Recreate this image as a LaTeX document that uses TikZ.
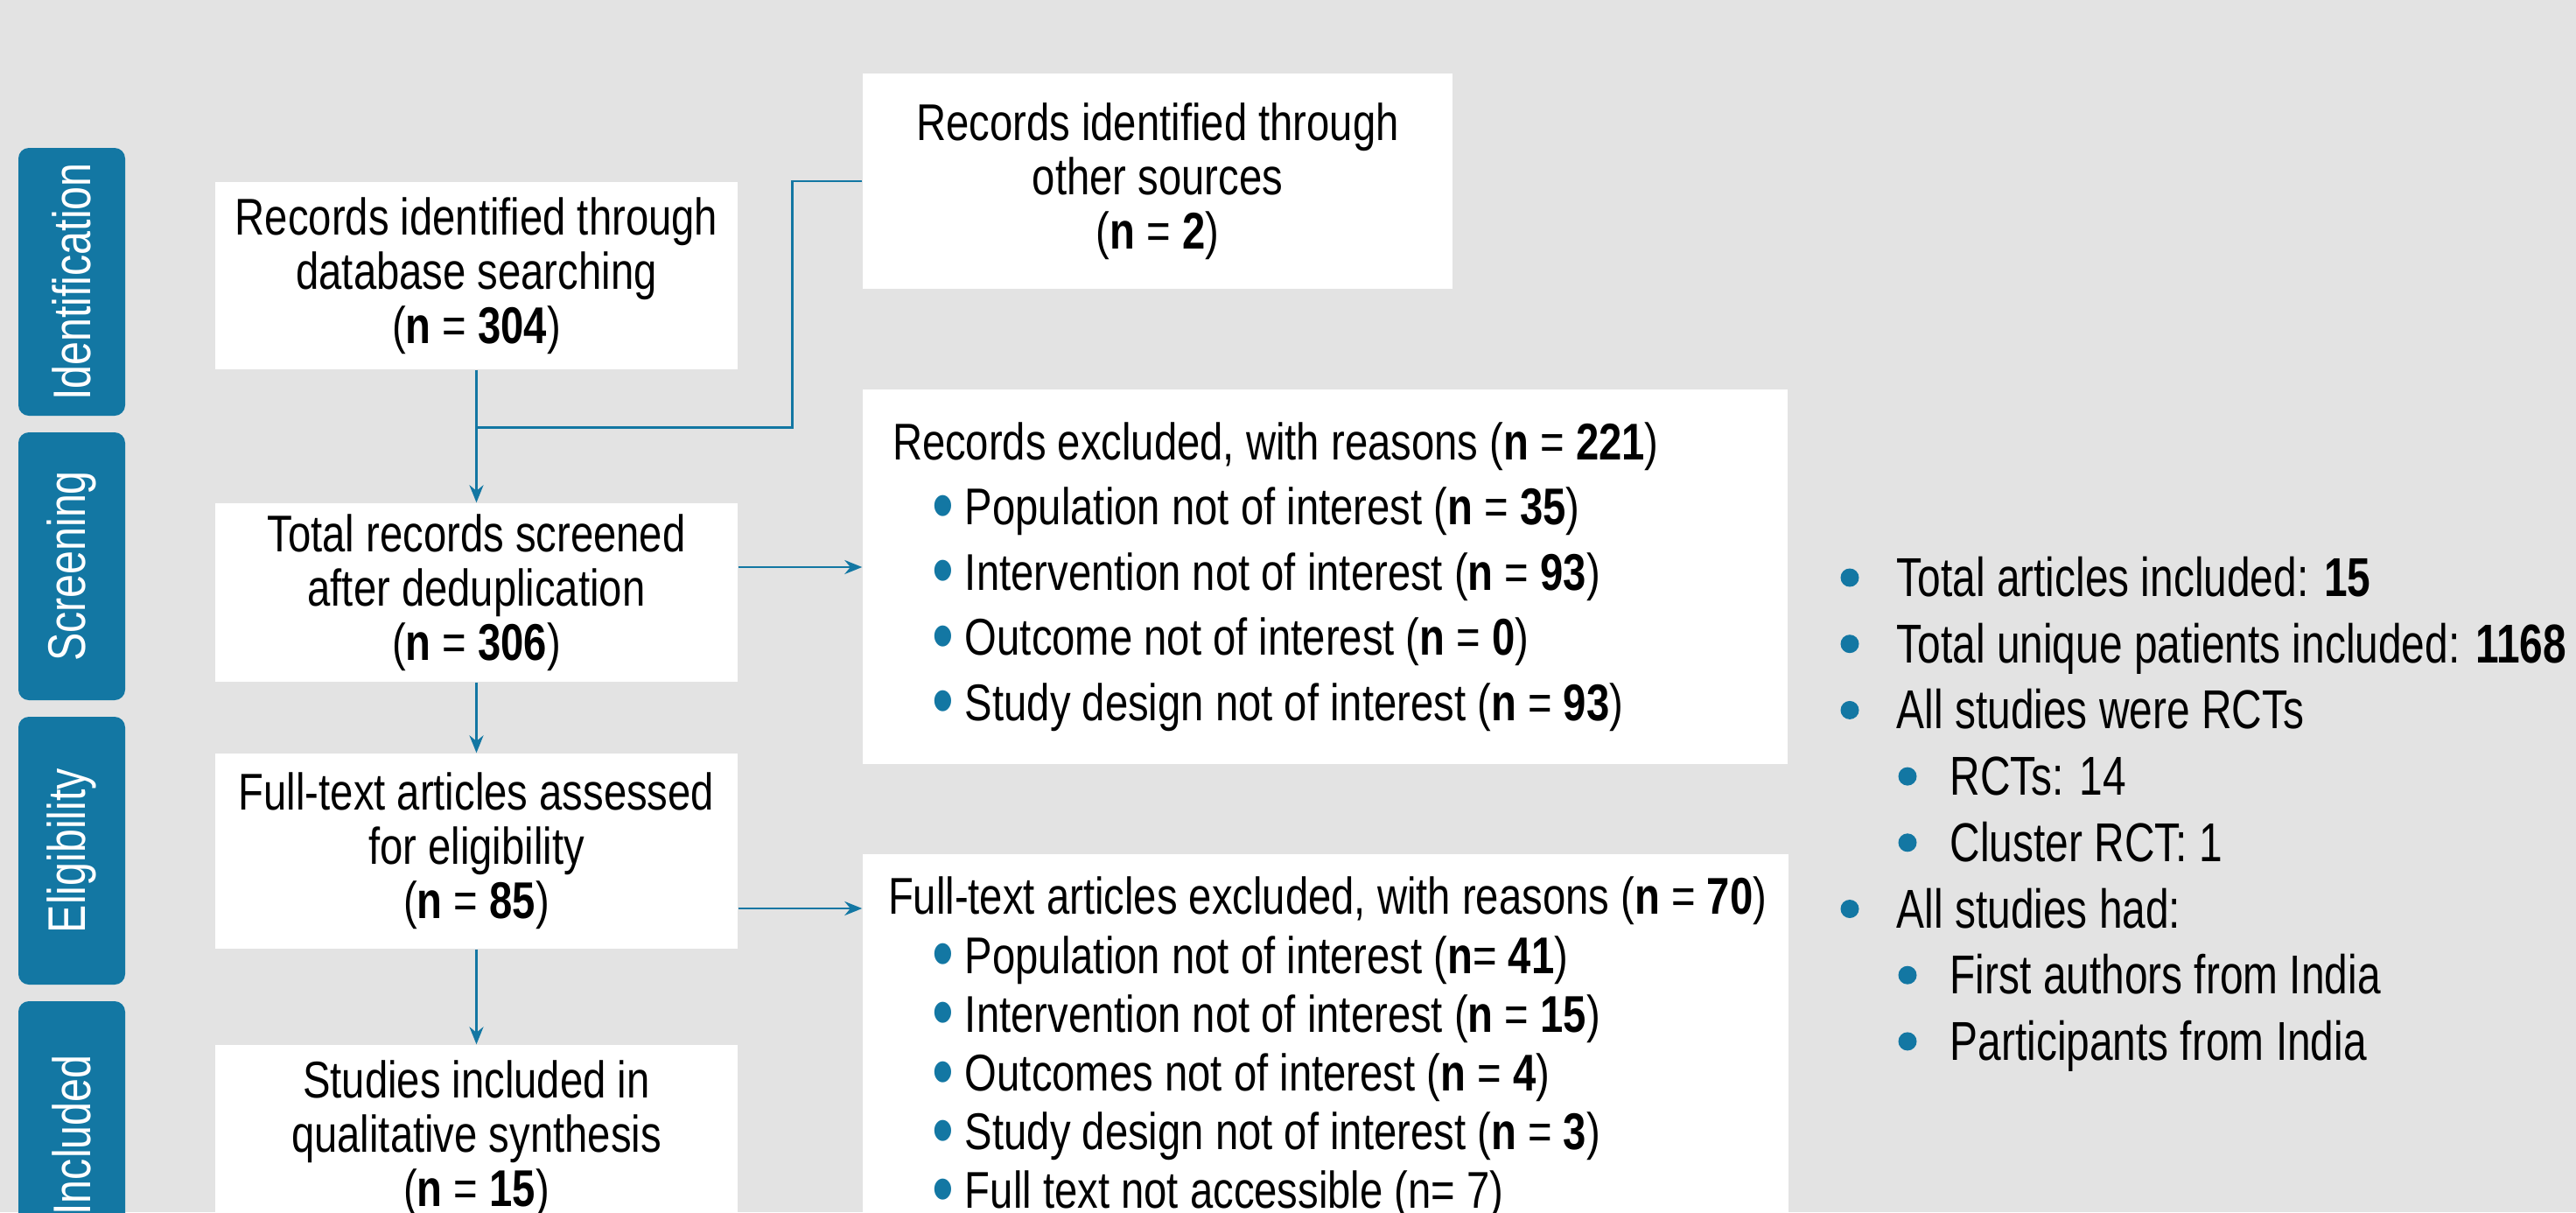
\documentclass[tikz,border=0pt]{standalone}
\usepackage{fontspec}
\setmainfont{Liberation Sans}[FakeStretch=0.80]
\newfontfamily\listfont{Liberation Sans}[FakeStretch=0.765]
\usetikzlibrary{
    arrows.meta,
    positioning,
    calc
}
\definecolor{fcteal}{RGB}{19,119,163}
\definecolor{fcgray}{RGB}{227,227,227}
\newcommand{\bul}{\textcolor{fcteal}{\raisebox{-0.13em}{\scalebox{1.5}{\textbullet}}}}
\tikzset{
    % --- Stage tab (rotated label on the left) ---
    stage/.style = {
        rectangle, rounded corners=0.12cm, fill=fcteal, text=white,
        minimum width=3.06cm, minimum height=1.22cm, inner sep=0pt,
        font=\fontsize{17.2pt}{18pt}\selectfont
    },
    % --- Flow box (main column) ---
    flow box/.style = {
        rectangle, fill=white, inner sep=0pt,
        minimum width=5.97cm, minimum height=2.14cm,
        align=center, font=\fontsize{16.8pt}{17.6pt}\selectfont
    },
    % --- Exclusion box (right column) ---
    excl box/.style = {
        rectangle, fill=white, inner sep=0pt,
        minimum width=10.57cm
    },
    % --- Text inside an exclusion box ---
    excl text/.style = {
        inner sep=0pt, align=left
    },
    % --- Connector line ---
    link/.style = {
        draw=fcteal, line width=0.75pt
    },
    % --- Connector with arrow head ---
    flow arrow/.style = {
        link, -{Stealth[length=2mm, width=1.6mm]}
    },
    % --- Summary list entry ---
    item/.style = {
        inner sep=0pt, font=\listfont\fontsize{17.8pt}{20pt}\selectfont
    }
}

\begin{document}
\begin{tikzpicture}

% ---------------------------------------------------------
% Canvas
% ---------------------------------------------------------
\useasboundingbox (0,0) rectangle (29.44,-13.85);
\clip (0,0) rectangle (29.44,-13.85);
\fill[fcgray] (0,0) rectangle (29.44,-13.85);

% ---------------------------------------------------------
% Stage tabs
% ---------------------------------------------------------
\foreach \name [count=\i] in {Identification, Screening, Eligibility, Included}
    \node[stage, rotate=90] (tab\i) at (0.82, {-3.22-3.25*(\i-1)}) {\name};

% ---------------------------------------------------------
% Main column
% ---------------------------------------------------------
\node[flow box] (Db) at (5.445, -3.15) {%
    Records identified through\\
    database searching\\
    (\textbf{n} = \textbf{304})
};
\node[flow box, minimum width=6.74cm, minimum height=2.46cm] (Other) at (13.23, -2.07) {%
    Records identified through\\
    other sources\\
    (\textbf{n} = \textbf{2})
};
\node[flow box, minimum height=2.04cm] (Screen) at (5.445, -6.77) {%
    Total records screened\\
    after deduplication\\
    (\textbf{n} = \textbf{306})
};
\node[flow box, minimum height=2.23cm] (Elig) at (5.445, -9.725) {%
    Full-text articles assessed\\
    for eligibility\\
    (\textbf{n} = \textbf{85})
};
\node[flow box] (Incl) at (5.445, -13.01) {%
    Studies included in\\
    qualitative synthesis\\
    (\textbf{n} = \textbf{15})
};

% ---------------------------------------------------------
% Exclusion boxes
% ---------------------------------------------------------
\node[excl box, minimum height=4.28cm] (ExclRec) at (15.145, -6.59) {};
\node[excl text, anchor=west, font=\fontsize{16.8pt}{21.2pt}\selectfont]
    (ExclRecTxt) at ($(ExclRec.west)+(0.34,0)$) {%
    Records excluded, with reasons (\textbf{n} = \textbf{221})\\
    \hspace*{0.45cm}\bul\ Population not of interest (\textbf{n} = \textbf{35})\\
    \hspace*{0.45cm}\bul\ Intervention not of interest (\textbf{n} = \textbf{93})\\
    \hspace*{0.45cm}\bul\ Outcome not of interest (\textbf{n} = \textbf{0})\\
    \hspace*{0.45cm}\bul\ Study design not of interest (\textbf{n} = \textbf{93})
};

\node[excl box, minimum width=10.58cm, minimum height=4.43cm] (ExclFt) at (15.15, -11.975) {};
\node[excl text, anchor=west, font=\fontsize{16.8pt}{19.1pt}\selectfont]
    (ExclFtTxt) at ($(ExclFt.west)+(0.29,0)$) {%
    Full-text articles excluded, with reasons (\textbf{n} = \textbf{70})\\
    \hspace*{0.5cm}\bul\ Population not of interest (\textbf{n}= \textbf{41})\\
    \hspace*{0.5cm}\bul\ Intervention not of interest (\textbf{n} = \textbf{15})\\
    \hspace*{0.5cm}\bul\ Outcomes not of interest (\textbf{n} = \textbf{4})\\
    \hspace*{0.5cm}\bul\ Study design not of interest (\textbf{n} = \textbf{3})\\
    \hspace*{0.5cm}\bul\ Full text not accessible (n= 7)
};

% ---------------------------------------------------------
% Connectors
% ---------------------------------------------------------
\coordinate (Join) at ($(Db.south)+(0,-0.66)$);
\draw[link] (Other.west) -- ++(-0.8,0) |- (Join);
\draw[flow arrow] (Db) -- (Screen);
\draw[flow arrow] (Screen) -- (Elig);
\draw[flow arrow] (Elig) -- (Incl);

\coordinate (ScrOut) at ($(Screen.east)+(0,0.29)$);
\draw[flow arrow] (ScrOut) -- (ScrOut -| ExclRec.west);
\coordinate (EligOut) at ($(Elig.east)+(0,-0.655)$);
\draw[flow arrow] (EligOut) -- (EligOut -| ExclFt.west);

% ---------------------------------------------------------
% Summary list
% ---------------------------------------------------------
\foreach \lvl/\txt [count=\i] in {
    0/{Total articles included: \textbf{15}},
    0/{Total unique patients included: \textbf{1168}},
    0/{All studies were RCTs},
    1/{RCTs: 14},
    1/{Cluster RCT: 1},
    0/{All studies had:},
    1/{First authors from India},
    1/{Participants from India}}
{
    \node[item, anchor=base west] (sum\i) at ({21.67+0.61*\lvl}, {-6.815-0.757*(\i-1)}) {\txt};
    \fill[fcteal] ({21.14+0.66*\lvl}, {-6.60-0.757*(\i-1)}) circle (0.105);
}

\end{tikzpicture}
\end{document}
